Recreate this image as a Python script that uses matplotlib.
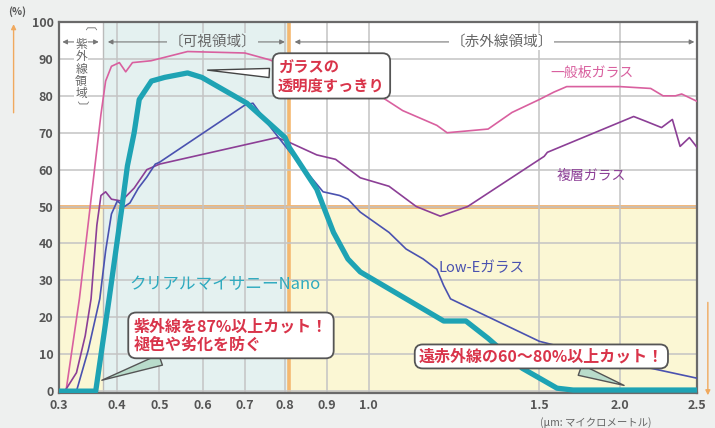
import numpy as np
import matplotlib
matplotlib.use("Agg")
import matplotlib.pyplot as plt

plt.rcParams['font.family'] = ['Noto Sans CJK JP', 'DejaVu Sans']

# wavelength (um) -> drawing position, the chart axis is stretched piecewise
axis_ticks = [0.3, 0.4, 0.5, 0.6, 0.7, 0.8, 0.9, 1.0, 1.5, 2.0, 2.5]
tick_labels = ["0.3", "0.4", "0.5", "0.6", "0.7", "0.8", "0.9", "1.0", "1.5", "2.0", "2.5"]
tick_pos = [0, 58, 100, 143, 185, 225, 267, 308, 478, 558, 635]

# 一般板ガラス
plain_x = [0.30, 0.312, 0.335, 0.355, 0.372, 0.38, 0.39, 0.405, 0.42, 0.436, 0.48, 0.565, 0.70,
           0.76, 0.85, 1.0, 1.05, 1.1, 1.2, 1.23, 1.35, 1.42, 1.5, 1.59, 1.67, 2.0, 2.2, 2.28,
           2.36, 2.4, 2.5]
plain_y = [0, 0, 25, 52, 75, 84, 88, 89, 86.5, 89, 89.5, 92, 91.6,
           89.8, 86, 82, 79, 76, 72, 70, 71, 75.5, 79, 81, 82.5, 82.5, 82, 80,
           80, 80.5, 78.5]

# 複層ガラス
double_x = [0.30, 0.31, 0.33, 0.345, 0.355, 0.365, 0.372, 0.38, 0.39, 0.41, 0.44, 0.47, 0.5,
            0.78, 0.81, 0.875, 0.92, 0.98, 1.06, 1.14, 1.21, 1.29, 1.53, 1.55, 2.09, 2.175,
            2.27, 2.34, 2.39, 2.45, 2.5]
double_y = [0, 0, 5, 15, 25, 45, 53, 54, 52, 51.5, 55, 60, 61.5,
            68.7, 67.4, 64, 62.8, 57.8, 55.5, 50, 47.4, 50, 63.6, 64.7, 74.4, 73,
            71.4, 73.6, 66.3, 68.7, 66]

# Low-Eガラス
lowe_x = [0.30, 0.33, 0.35, 0.37, 0.38, 0.39, 0.40, 0.417, 0.43, 0.45, 0.47, 0.49, 0.5,
          0.7, 0.72, 0.76, 0.81, 0.89, 0.93, 0.95, 0.98, 1.06, 1.11, 1.16, 1.2, 1.22, 1.24,
          1.5, 1.96, 2.5]
lowe_y = [0, 0, 11, 25, 38, 48, 51.5, 50, 51, 55, 58, 61.5, 62,
          77.5, 78, 72, 65, 54, 53, 52, 48.5, 43, 38.5, 35.8, 33, 28.6, 25,
          13.5, 8.4, 3.5]

# クリアルマイサニーNano
nano_x = [0.30, 0.363, 0.386, 0.41, 0.424, 0.44, 0.452, 0.481, 0.512, 0.565, 0.598, 0.705,
          0.8, 0.81, 0.875, 0.915, 0.95, 0.98, 1.11, 1.22, 1.285, 1.35, 1.45, 1.61, 1.71, 2.5]
nano_y = [0, 0, 25, 49, 61, 70, 79, 84, 85, 86.2, 85, 78,
          68.7, 66, 54.7, 43, 35.8, 32.3, 25, 19, 19, 14.3, 6.2, 0.8, 0.3, 0.3]

uv_end = 0.375
vis_end = 0.81
uv_label = "〔紫外線領域〕"


def fwd(x):
    return np.interp(x, axis_ticks, tick_pos)


def inv(x):
    return np.interp(x, tick_pos, axis_ticks)


fig = plt.figure(figsize=(7.15, 4.28), dpi=100, facecolor='#eef0ef')
ax = fig.add_axes([0.0825, 0.0818, 0.8925, 0.8668])
ax.set_xscale('function', functions=(fwd, inv))
ax.set_xlim(0.3, 2.5)
ax.set_ylim(-0.5, 100)
ax.set_facecolor('white')

# region backgrounds
ax.axvspan(0.3, uv_end, ymin=0, ymax=0.5, color='#fbf7d4', lw=0, zorder=0)
ax.axvspan(uv_end, vis_end, color='#e4f1f0', lw=0, zorder=0)
ax.axvspan(vis_end, 2.5, ymin=0, ymax=0.5, color='#fbf7d4', lw=0, zorder=0)

ax.set_xticks(axis_ticks)
ax.set_xticklabels(tick_labels)
ax.set_yticks(range(0, 101, 10))
ax.tick_params(length=0, labelsize=9, labelcolor='#555555', pad=4)
for lab in ax.get_xticklabels() + ax.get_yticklabels():
    lab.set_fontweight('bold')

ax.grid(True, color='#c4c4c4', lw=1.1, zorder=1)
ax.axhline(50, color='#f0a95e', lw=2.6, zorder=1.5)
ax.axvline(vis_end, color='#f4b870', lw=2.6, zorder=1.5)
ax.axvline(uv_end, color='#bbbbbb', lw=1.0, zorder=1)
for s in ax.spines.values():
    s.set_color('#6a6a6a')
    s.set_linewidth(1.6)

ax.plot(plain_x, plain_y, color='#d9609f', lw=1.2, zorder=3)
ax.plot(double_x, double_y, color='#8c3f96', lw=1.2, zorder=3)
ax.plot(lowe_x, lowe_y, color='#4a52b0', lw=1.2, zorder=3)
ax.plot(nano_x, nano_y, color='#1ea3b4', lw=3.8, zorder=4, solid_joinstyle='round')

# region arrows on top
arr = dict(arrowstyle='<|-|>', color='#777777', lw=0.8, mutation_scale=7)
ax.annotate('', xy=(0.301, 94.6), xytext=(uv_end - 0.002, 94.6), arrowprops=arr, zorder=5)
ax.annotate('', xy=(uv_end + 0.004, 94.6), xytext=(vis_end - 0.004, 94.6), arrowprops=arr, zorder=5)
ax.annotate('', xy=(vis_end + 0.006, 94.6), xytext=(2.5, 94.6), arrowprops=arr, zorder=5)
ax.text(0.624, 94.6, '〔可視領域〕', ha='center', va='center', fontsize=10.5, color='#666666',
        bbox=dict(boxstyle='square,pad=0.1', fc='#e4f1f0', ec='none'), zorder=6)
ax.text(1.39, 94.6, '〔赤外線領域〕', ha='center', va='center', fontsize=10.5, color='#666666',
        bbox=dict(boxstyle='square,pad=0.1', fc='white', ec='none'), zorder=6)

# vertical label for the UV band, one character per row
ax.axvspan(0.326, 0.35, ymin=0.755, ymax=0.985, color='white', lw=0, zorder=5.5)
rows = np.linspace(97.3, 77.2, len(uv_label))
for ch, yy in zip(uv_label, rows):
    rot = -90 if ch in "〔〕" else 0
    ax.text(0.338, yy, ch, rotation=rot, ha='center', va='center', fontsize=8.5,
            color='#666666', zorder=7)

# series labels
ax.text(1.825, 86.3, '一般板ガラス', ha='center', va='center', fontsize=10, color='#d9609f', zorder=6)
ax.text(1.825, 58.2, '複層ガラス', ha='center', va='center', fontsize=10, color='#8c3f96', zorder=6)
ax.text(1.33, 33.2, 'Low-Eガラス', ha='center', va='center', fontsize=10.5, color='#4a52b0', zorder=6)
ax.text(0.652, 29, 'クリアルマイサニーNano', ha='center', va='center', fontsize=12,
        color='#2eaabf', zorder=6)

# callouts
box = dict(boxstyle='round,pad=0.35,rounding_size=0.5', fc='white', ec='#555555', lw=1.3)
ax.annotate('ガラスの\n透明度すっきり', xy=(0.605, 87), xytext=(0.91, 85.4),
            ha='center', va='center', multialignment='left', fontsize=11, fontweight='bold',
            color='#d9344a', bbox=box, zorder=8,
            arrowprops=dict(arrowstyle='wedge,tail_width=0.6', fc='white', ec='#444444', lw=1.0))
ax.annotate('紫外線を87%以上カット！\n褪色や劣化を防ぐ', xy=(0.369, 2.7), xytext=(0.667, 15.1),
            ha='center', va='center', multialignment='left', fontsize=11.5, fontweight='bold',
            color='#d9344a', bbox=box, zorder=8,
            arrowprops=dict(arrowstyle='wedge,tail_width=0.7', fc='#b9dccb', ec='#555555', lw=1.0))
ax.annotate('遠赤外線の60～80%以上カット！', xy=(2.045, 1.3), xytext=(1.5125, 9.4),
            ha='center', va='center', fontsize=11.5, fontweight='bold',
            color='#d9344a', bbox=dict(box, boxstyle='round,pad=0.25,rounding_size=0.5'), zorder=8,
            arrowprops=dict(arrowstyle='wedge,tail_width=0.7', fc='#b9dccb', ec='#555555', lw=1.0))

fig.text(0.012, 0.985, '(%)', ha='left', va='top', fontsize=7.5, color='#555555', fontweight='bold')
fig.text(0.755, 0.0, '(μm: マイクロメートル)', ha='left', va='bottom', fontsize=7.5, color='#666666')

# side arrows (decoration)
fig.add_artist(matplotlib.patches.FancyArrowPatch((0.019, 0.73), (0.019, 0.95), transform=fig.transFigure,
               arrowstyle='-|>', mutation_scale=7, color='#f0a95e', lw=1.0))
fig.add_artist(matplotlib.patches.FancyArrowPatch((0.99, 0.30), (0.99, 0.07), transform=fig.transFigure,
               arrowstyle='-|>', mutation_scale=7, color='#f0a95e', lw=1.0))

fig.savefig('out.png', dpi=100, facecolor=fig.get_facecolor())
